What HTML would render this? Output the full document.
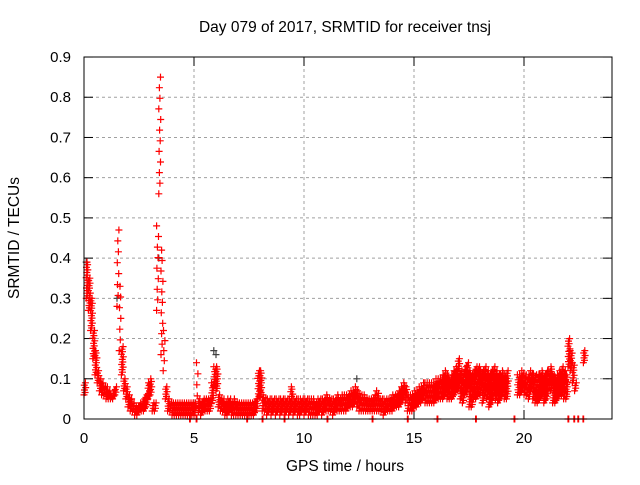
<!DOCTYPE html>
<html><head><meta charset="utf-8"><style>
body{margin:0;background:#fff}
svg text{font-family:"Liberation Sans",sans-serif;font-size:15px;fill:#000}
</style></head><body>
<svg id="chart" width="640" height="480" viewBox="0 0 640 480" xmlns="http://www.w3.org/2000/svg">
<rect width="640" height="480" fill="#fff"/>
<text x="345" y="32" text-anchor="middle" style="font-size:15.5px">Day 079 of 2017, SRMTID for receiver tnsj</text>
<text transform="translate(19,238) rotate(-90)" text-anchor="middle" style="font-size:15.5px">SRMTID / TECUs</text>
<text x="345" y="471" text-anchor="middle" style="font-size:15.5px">GPS time / hours</text>
<g id="grid"></g><g id="ticks"></g><g id="marks"></g>
<rect x="84" y="57" width="528" height="362" fill="none" stroke="#000" stroke-width="1"/>
</svg>
<script>
const xTicks=[0,5,10,15,20];
const yTicks=[0,0.1,0.2,0.3,0.4,0.5,0.6,0.7,0.8,0.9];
const yTickLabels=["0","0.1","0.2","0.3","0.4","0.5","0.6","0.7","0.8","0.9"];
const step=0.1;
const seriesA=[9,39,35,30,22,17,12,10,9,8,
8,7,6,7,8,47,33,18,10,8,
6,5,4,3,3,4,4,5,6,9,
10,4,4,48,85,42,22,8,5,4,
4,4,4,4,4,4,4,4,4,4,
4,14,5,4,5,5,5,5,9,13,
13,6,5,5,4,5,5,4,5,4,
4,4,4,4,4,4,4,4,5,12,
12,6,5,5,5,5,5,5,5,5,
5,5,5,5,8,5,5,5,5,5,
5,5,5,5,5,4,5,5,5,5,
6,5,5,5,5,6,5,6,6,6,
6,7,7,8,7,6,6,6,5,5,
5,5,6,7,5,5,5,5,5,5,
6,6,6,7,8,9,8,6,6,6,
7,7,8,8,9,9,9,9,9,9,
10,10,10,11,12,11,10,11,12,13,
15,12,11,13,14,12,11,12,13,13,
12,12,13,12,11,12,13,12,11,11,
12,11,12,null,null,null,null,11,11,12,
11,11,11,12,11,11,11,11,12,11,
12,12,13,11,10,11,12,13,12,11,
20,17,14,9,null,null,null,17];
const seriesB=[6,30,27,22,15,11,9,7,6,6,
5,5,5,5,6,28,17,11,7,5,
3,2,2,1,1,2,2,2,3,5,
6,2,2,27,56,16,12,5,2,2,
1,1,1,1,1,1,1,1,1,1,
1,3,2,1,2,2,2,2,4,8,
7,3,2,2,1,1,2,1,1,1,
1,1,1,1,1,1,1,1,2,5,
6,2,2,1,2,1,2,1,2,1,
2,1,2,1,2,1,2,1,1,2,
1,2,1,1,1,1,1,2,1,2,
2,2,2,1,2,2,2,2,2,2,
3,3,3,4,3,2,2,2,2,2,
2,2,2,2,2,2,1,2,2,2,
2,3,3,3,4,5,4,2,2,2,
3,3,4,4,5,4,4,4,4,4,
5,5,5,5,6,5,5,5,6,7,
7,5,4,6,7,3,3,5,5,6,
6,4,6,5,3,4,6,5,4,5,
6,5,5,null,null,null,null,6,6,7,
6,6,5,7,5,4,4,5,6,4,
5,7,7,4,4,5,6,6,5,5,
13,12,9,7,null,null,null,14];
const zeroTimes=[4.8,5.1,7.4,8.1,9.1,11.05,13.1,14.7,16.05,17.8,19.55,22.0,22.27,22.45,22.68];
const grayTimes=[0.1,1.5,3.4,5.9,6.0,12.4];
const grayValues=[0.39,0.30,0.40,0.17,0.16,0.10];
const X=t=>84+t*22;
const Y=v=>419-v*402.2;
const NS="http://www.w3.org/2000/svg";
function mk(tag,attrs,parent){const e=document.createElementNS(NS,tag);for(const k in attrs)e.setAttribute(k,attrs[k]);parent.appendChild(e);return e;}
const grid=document.getElementById('grid'),ticks=document.getElementById('ticks'),marks=document.getElementById('marks');
yTicks.forEach((v,i)=>{
 if(v>0&&v<0.9){const g=mk('line',{x1:84,x2:612,y1:Y(v),y2:Y(v),stroke:'#a0a0a0','stroke-dasharray':'3,3'},grid);
 
 }
 mk('line',{x1:84,x2:93,y1:Y(v),y2:Y(v),stroke:'#000'},ticks);
 mk('line',{x1:603,x2:612,y1:Y(v),y2:Y(v),stroke:'#000'},ticks);
 const t=mk('text',{x:71,y:Y(v)+5,'text-anchor':'end'},ticks);t.textContent=yTickLabels[i];
 
 
});
xTicks.forEach(v=>{
 if(v>0){const g=mk('line',{x1:X(v),x2:X(v),y1:57,y2:419,stroke:'#a0a0a0','stroke-dasharray':'3,3'},grid);
 
 }
 mk('line',{x1:X(v),x2:X(v),y1:419,y2:410,stroke:'#000'},ticks);
 mk('line',{x1:X(v),x2:X(v),y1:57,y2:66,stroke:'#000'},ticks);
 const t=mk('text',{x:X(v),y:443,'text-anchor':'middle'},ticks);t.textContent=v;
 
 
});
let pathD='';
function plus(t,v){
 const x=X(t),y=Y(v);
 pathD+=`M${(x-3.5).toFixed(1)} ${y.toFixed(1)}H${(x+3.5).toFixed(1)}M${x.toFixed(1)} ${(y-3.5).toFixed(1)}V${(y+3.5).toFixed(1)}`;
}
// each sample: cloud of markers spanning from low (B) to high (A) value
const offs=[0,0.05,0.025,0.075,0.012,0.062,0.037,0.087];
seriesA.forEach((a,i)=>{
 const b=seriesB[i];
 if(a===null||b===null)return;
 const lo=b/100,hi=a/100;
 const py=(Y(lo)-Y(hi));
 const spacing=py>40?11:2.5;
 const n=Math.max(3,Math.round(py/spacing)+1);
 for(let k=0;k<n;k++){
  const v=lo+(hi-lo)*k/(n-1);
  plus(i*step+offs[k%offs.length],v);
 }
});
zeroTimes.forEach(t=>{plus(t,0);plus(t+0.03,0);});
const redPath=mk('path',{d:pathD,stroke:'#ff0000','stroke-width':1.2,fill:'none'},marks);


pathD='';
grayTimes.forEach((t,i)=>plus(t,grayValues[i]));
const grayPath=mk('path',{d:pathD,stroke:'#404040','stroke-width':1.2,fill:'none'},marks);


marks.insertBefore(grayPath,redPath);
</script>
</body></html>
